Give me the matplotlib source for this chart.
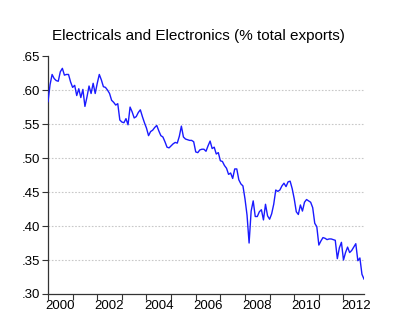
import numpy as np
import matplotlib
matplotlib.use('Agg')
import matplotlib.pyplot as plt
from matplotlib.ticker import FuncFormatter

plt.rcParams['font.family'] = ['Liberation Sans', 'DejaVu Sans']

# monthly share, Jan 2000 .. Nov 2012
share = [
    .583, .608, .623, .617, .614, .613, .627, .632, .622, .623, .623, .612,
    .604, .607, .592, .602, .589, .601, .576, .590, .606, .595, .610, .595,
    .610, .623, .615, .605, .604, .600, .595, .585, .582, .578, .580, .556,
    .553, .552, .558, .549, .575, .568, .559, .561, .567, .571, .561, .552,
    .544, .533, .539, .541, .545, .548, .540, .533, .531, .524, .516, .515,
    .518, .521, .523, .522, .532, .547, .531, .528, .527, .526, .526, .524,
    .509, .508, .512, .513, .513, .510, .518, .525, .514, .516, .506, .508,
    .496, .495, .489, .485, .476, .478, .470, .484, .484, .468, .462, .459,
    .440, .416, .375, .422, .437, .414, .414, .421, .424, .409, .432, .415,
    .410, .418, .432, .453, .451, .453, .459, .463, .458, .465, .466, .455,
    .440, .421, .417, .431, .422, .435, .439, .437, .435, .427, .404, .399,
    .372, .378, .383, .382, .380, .381, .381, .380, .379, .352, .368, .376,
    .350, .361, .369, .361, .364, .369, .374, .349, .353, .329, .322,
]
t = 2000 + np.arange(len(share)) / 12.0

year_ticks = list(range(2000, 2013))
year_labels = [2000, 2002, 2004, 2006, 2008, 2010, 2012]
y_ticks = [.30, .35, .40, .45, .50, .55, .60, .65]

fig = plt.figure(figsize=(4, 3.36), dpi=100, facecolor='white')
ax = fig.add_axes([0.12, 0.125, 0.79, 0.708])

for y in y_ticks[1:-1]:
    ax.axhline(y, color='#c8c8c8', lw=0.8, ls=(0, (1.5, 1.5)), zorder=1)

ax.plot(t, share, color='#1a1aff', lw=1.0, zorder=3)

ax.set_xlim(2000, t[-1])
ax.set_ylim(.30, .65)
ax.set_xticks(year_ticks)
ax.set_xticklabels([])
ax.set_xticks([y + 0.5 for y in year_labels], minor=True)
ax.set_xticklabels([str(y) for y in year_labels], minor=True)
ax.tick_params(axis='x', which='major', direction='out', length=4, width=0.8, color='#333333')
ax.tick_params(axis='x', which='minor', length=0, labelsize=9.5, pad=4)
ax.set_yticks(y_ticks)
ax.yaxis.set_major_formatter(FuncFormatter(lambda v, p: ('%.2f' % v).lstrip('0')))
ax.tick_params(axis='y', direction='out', length=4, width=0.8, labelsize=9.5, color='#333333', pad=2)

for s in ['top', 'right']:
    ax.spines[s].set_visible(False)
for s in ['left', 'bottom']:
    ax.spines[s].set_linewidth(0.9)
    ax.spines[s].set_color('#333333')

fig.text(0.495, 0.893, 'Electricals and Electronics (% total exports)',
         ha='center', va='center', fontsize=11)

fig.savefig('out.png', dpi=100)
